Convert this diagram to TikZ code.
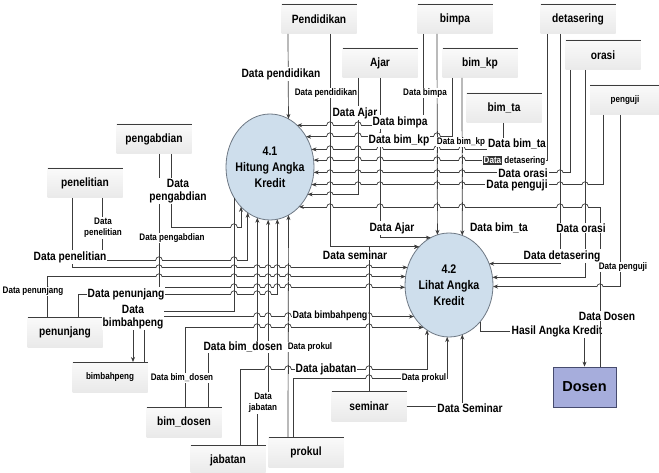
\documentclass[tikz,border=0pt]{standalone}
\usepackage{fontspec}
\setmainfont{Liberation Sans}
\newfontfamily\nfont[FakeStretch=0.85]{Liberation Sans}
\usetikzlibrary{arrows.meta,shapes.geometric}
\definecolor{ln}{RGB}{60,60,60}
\definecolor{procfill}{RGB}{206,222,236}
\definecolor{procdraw}{RGB}{110,120,132}
\definecolor{entfill}{RGB}{166,173,220}
\definecolor{entdraw}{RGB}{70,75,110}
\newcommand{\hlword}[1]{{\setlength{\fboxsep}{1pt}\colorbox{black!80}{\color{white}#1}}}
% a horizontal line jumping over a vertical one at (#1,#2)
\newcommand{\hopat}[2]{%
  \fill[white] (#1-3.2,#2-0.8) rectangle (#1+3.2,#2+0.8);
  \draw[ln,line width=0.7pt] (#1,#2-4.5) -- (#1,#2+4.5);
  \draw[ln,line width=0.7pt] (#1-3.2,#2) arc[start angle=180,end angle=360,radius=3.2];}
\begin{document}
\begin{tikzpicture}[x=1pt,y=-1pt,
  store/.style={minimum width=75pt,minimum height=30pt,inner sep=0pt,outer sep=0pt,
    top color=gray!4,bottom color=gray!17,font=\nfont\bfseries\fontsize{12}{13}\selectfont},
  sstore/.style={store,font=\nfont\bfseries\fontsize{9.5}{11}\selectfont},
  proc/.style={ellipse,draw=procdraw,line width=0.8pt,fill=procfill,
    minimum width=88pt,inner sep=0pt,outer sep=0pt},
  ptext/.style={align=center,inner sep=0pt,font=\nfont\bfseries\fontsize{12.5}{16}\selectfont},
  entity/.style={draw=entdraw,line width=0.8pt,fill=entfill,minimum width=63pt,minimum height=40pt,
    inner sep=0pt,font=\bfseries\fontsize{14.5}{16}\selectfont},
  flow/.style={draw=ln,line width=0.7pt,-{Stealth[length=5pt,width=4pt]}},
  plain/.style={draw=ln,line width=0.7pt},
  big/.style={fill=white,inner sep=1pt,align=center,font=\nfont\bfseries\fontsize{12}{13}\selectfont},
  mid/.style={fill=white,inner sep=1pt,align=center,font=\nfont\bfseries\fontsize{10.5}{12}\selectfont},
  small/.style={fill=white,inner sep=0.8pt,align=center,font=\nfont\bfseries\fontsize{9.5}{11}\selectfont},
]
\fill[white] (0,0) rectangle (659,473);
\useasboundingbox (0,0) rectangle (659,473);

% data stores
\node[store]  (pend)    at (319,19)  {Pendidikan};
\node[store]  (bimpa)   at (455,19)  {bimpa};
\node[store]  (detas)   at (578,19)  {detasering};
\node[store]  (ajar)    at (380,63)  {Ajar};
\node[store]  (bimkp)   at (480,63)  {bim\_kp};
\node[store]  (orasi)   at (603,55)  {orasi};
\node[store]  (bimta)   at (504,108) {bim\_ta};
\node[sstore,minimum width=70pt] (penguji) at (625,100) {penguji};
\node[store]  (pengab)  at (154,139) {pengabdian};
\node[store]  (penel)   at (85,183)  {penelitian};
\node[store]  (penunj)  at (65,332)  {penunjang};
\node[sstore] (bimb)    at (110,377) {bimbahpeng};
\node[store]  (bimdos)  at (184,422) {bim\_dosen};
\node[store]  (jab)     at (228,460) {jabatan};
\node[store]  (prokul)  at (306,452) {prokul};
\node[store]  (seminar) at (369,406) {seminar};
\foreach \s in {pend,bimpa,detas,ajar,bimkp,orasi,bimta,penguji,pengab,penel,penunj,bimb,bimdos,jab,prokul,seminar}
  {\draw[ln,line width=0.7pt] (\s.north west) -- (\s.north east);}

% processes and the external entity
\node[proc,minimum height=106pt] (h41) at (270,167) {};
\node[proc,minimum height=104pt] (h42) at (449,285) {};
\node[ptext] (t41) at (h41) {4.1\\Hitung Angka\\Kredit};
\node[ptext] (t42) at (h42) {4.2\\Lihat Angka\\Kredit};
\node[entity] (dosen) at (584.5,387) {Dosen};
\node[inner sep=1pt,font=\nfont\bfseries\fontsize{12}{13}\selectfont] (hasil) at (557,331) {Hasil Angka Kredit};

% flows from the upper stores
\draw[flow] ([xshift=-31]pend.south) -- (h41.69.58);
\draw[flow] ([xshift=11]pend.south) |- (h42.128.33);
\draw[flow] ([xshift=-22]ajar.south) |- (h41.-36.85);
\draw[flow] (ajar.south) |- (h42.111.83);
\draw[flow] ([xshift=-32]bimpa.south) |- (h41.57.42);
\draw[flow] ([xshift=-18]bimpa.south) -- (h42.103.49);
\draw[flow] ([xshift=-28]bimkp.south) |- (h41.40.98);
\draw[flow] ([xshift=-18]bimkp.south) -- (h42.75.34);
\draw[flow] ([xshift=-1]bimta.south) |- (h41.23.50);
\draw[flow] ([xshift=-31]detas.south) |- (h41.9.12);
\draw[flow] ([xshift=-18]detas.south) |- (h42.28.89);
\draw[flow] ([xshift=-33]orasi.south) |- (h41.-7.81);
\draw[flow] ([xshift=-18]orasi.south) |- (h42.10.43);
\draw[flow] ([xshift=-22]penguji.south) |- (h41.-23.50);
\draw[flow] ([xshift=-5]penguji.south) |- (h42.-2.60);

% Dosen
\draw[flow] ([xshift=15.5]dosen.north) |- (h41.-54.18);
\draw[plain] (h42.-50) |- (hasil.west);
\draw[flow] (hasil.south -| dosen.north) -- (dosen.north);

% flows from the left and lower stores
\draw[flow] ([xshift=17]pengab.south) -- ++(0,73) -| (h41.-126.04);
\draw[flow] ([xshift=5]pengab.south) |- (h42.-177.40);
\draw[flow] ([xshift=17]penel.south) -- ++(0,62) -| (h41.-116.98);
\draw[flow] ([xshift=-13]penel.south) |- (h42.157.76);
\draw[flow] ([xshift=-18]penunj.north) |- (h42.169.57);
\draw[flow] ([xshift=13]penunj.north) -- ++(0,-23) -| (h41.-82.38);
\draw[flow] (h41.-139.76) -- ++(0,113.5) -| ([xshift=23]bimb.north);
\draw[flow] ([xshift=34]bimb.north) |- (h42.-138.74);
\draw[flow] ([xshift=1]bimdos.north) |- (h42.-121.70);
\draw[flow] ([xshift=24]bimdos.north) -- ++(0,-60) -| (h41.-104.40);
\draw[flow] ([xshift=12]jab.north) -- ++(0,-76) -| (h42.-116.04);
\draw[flow] ([xshift=29]jab.north) -- ++(0,-43) -| (h41.-92.16);
\draw[flow] ([xshift=-13]prokul.north) -- ++(0,-59) -| (h42.-92.20);
\draw[flow] ([xshift=-18]prokul.north) -- (h41.-69.58);
\draw[flow] (seminar.north) |- (h42.128.33);
\draw[flow] (seminar.east) -| (h42.-75.34);

% line jumps where flows cross
\foreach \x in {330,358,380} {\hopat{\x}{125}}
\foreach \x in {330,358,380,437} {\hopat{\x}{136}}
\foreach \x in {330,358,380,437,462} {\hopat{\x}{149}\hopat{\x}{160}}
\foreach \x in {330,358,380,437,462,560} {\hopat{\x}{173}}
\foreach \x in {330,358,380,437,462,560,585} {\hopat{\x}{185}}
\hopat{330}{195}
\foreach \x in {330,380,437,462,560,585} {\hopat{\x}{207}}
\hopat{234}{227}
\hopat{600}{287}
\foreach \x in {159,234} {\hopat{\x}{260}}
\foreach \x in {159,234,257,268,277,288,369} {\hopat{\x}{268}\hopat{\x}{277}}
\foreach \x in {234,257,268,277,288,369} {\hopat{\x}{287}}
\foreach \x in {234,257,268} {\hopat{\x}{294}}
\foreach \x in {257,268,288,369} {\hopat{\x}{316}\hopat{\x}{327}}
\foreach \x in {268,288,369} {\hopat{\x}{369}}
\hopat{369}{378}

% flow labels
\node[big]   (l1)  at (281,74)  {Data pendidikan};
\node[small] (l2)  at (326,93)  {Data pendidikan};
\node[big]   (l3)  at (355,113) {Data Ajar};
\node[small] (l4)  at (425,93)  {Data bimpa};
\node[big]   (l5)  at (400,122) {Data bimpa};
\node[big]   (l6)  at (399,140) {Data bim\_kp};
\node[small] (l7)  at (461,142) {Data bim\_kp};
\node[big]   (l8)  at (517,144) {Data bim\_ta};
\node[small] (l9)  at (514,161) {\hlword{Data} detasering};
\node[big]   (l10) at (523,173) {Data orasi};
\node[big]   (l11) at (517,185) {Data penguji};
\node[big]   (l12) at (392,228) {Data Ajar};
\node[big]   (l13) at (499,228) {Data bim\_ta};
\node[big]   (l14) at (581,228) {Data orasi};
\node[big]   (l15) at (355,255) {Data seminar};
\node[big]   (l16) at (562,256) {Data detasering};
\node[small] (l17) at (623,267) {Data penguji};
\node[big]   (l18) at (607,316) {Data Dosen};
\node[big]   (l20) at (178,191) {Data\\pengabdian};
\node[small] (l21) at (172,238) {Data pengabdian};
\node[small] (l22) at (103,228) {Data\\penelitian};
\node[big]   (l23) at (70,257)  {Data penelitian};
\node[small] (l24) at (33,291)  {Data penunjang};
\node[big]   (l25) at (126,294) {Data penunjang};
\node[big]   (l26) at (133,317) {Data\\bimbahpeng};
\node[mid]   (l27) at (330,316) {Data bimbahpeng};
\node[big]   (l28) at (243,347) {Data bim\_dosen};
\node[small] (l29) at (182,378) {Data bim\_dosen};
\node[small] (l30) at (310,347) {Data prokul};
\node[big]   (l31) at (326,369) {Data jabatan};
\node[small] (l32) at (263,403) {Data\\jabatan};
\node[small] (l33) at (424,378) {Data prokul};
\node[big]   (l34) at (470,408) {Data Seminar};
\end{tikzpicture}
\end{document}
